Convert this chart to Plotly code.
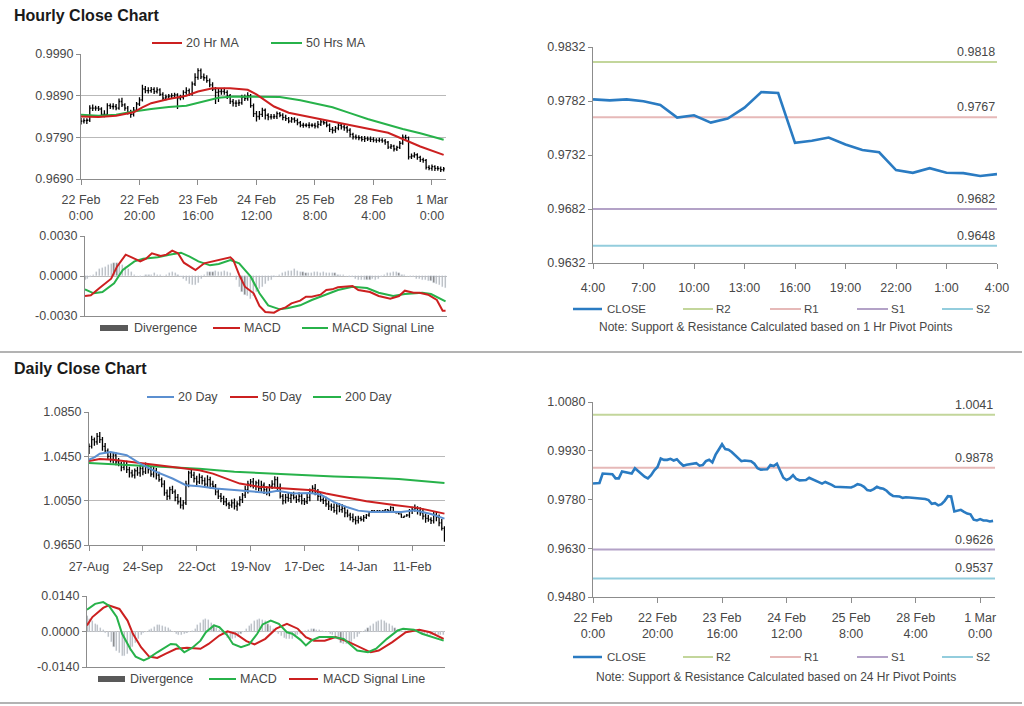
import plotly.graph_objects as go

# ------------------------------------------------------------------ data
PIP = 1e-4

# Hourly bars (values in pips, x 1e-4)
hourly_tick_idx = [0, 20, 40, 60, 80, 100, 120]
hourly_tick_text = ["22 Feb<br>0:00", "22 Feb<br>20:00", "23 Feb<br>16:00", "24 Feb<br>12:00",
                    "25 Feb<br>8:00", "28 Feb<br>4:00", "1 Mar<br>0:00"]

h_close = [9829, 9830, 9831, 9860, 9860, 9860, 9858, 9845, 9845, 9866,
           9864, 9864, 9860, 9876, 9868, 9860, 9850, 9845, 9855, 9870,
           9880, 9906, 9902, 9902, 9905, 9900, 9904, 9893, 9884, 9887,
           9889, 9890, 9892, 9884, 9886, 9898, 9902, 9894, 9918, 9934,
           9950, 9935, 9933, 9926, 9916, 9906, 9898, 9900, 9900, 9898,
           9890, 9876, 9872, 9872, 9873, 9886, 9883, 9890, 9866, 9847,
           9840, 9845, 9855, 9843, 9839, 9839, 9840, 9847, 9843, 9838,
           9835, 9829, 9834, 9830, 9825, 9819, 9819, 9819, 9819, 9819,
           9817, 9821, 9827, 9825, 9819, 9809, 9807, 9812, 9819, 9815,
           9813, 9807, 9797, 9791, 9790, 9789, 9785, 9787, 9786, 9785,
           9783.5, 9782.6, 9783.5, 9781.7, 9778.3, 9766.6, 9768.8, 9762.0, 9765.7, 9775.8,
           9790.3, 9789.4, 9743.2, 9745.2, 9748.2, 9741.8, 9736.6, 9734.5, 9718.0, 9715.5,
           9719.8, 9715.5, 9715.2, 9712.5, 9714.3]
h_open = [9826, 9829, 9830, 9831, 9860, 9860, 9860, 9858, 9845, 9845,
          9866, 9864, 9864, 9860, 9876, 9868, 9860, 9850, 9845, 9855,
          9870, 9880, 9906, 9902, 9902, 9905, 9900, 9904, 9893, 9884,
          9887, 9889, 9890, 9892, 9884, 9886, 9898, 9902, 9894, 9918,
          9934, 9950, 9935, 9933, 9926, 9916, 9906, 9898, 9900, 9900,
          9898, 9890, 9876, 9872, 9872, 9873, 9886, 9883, 9890, 9866,
          9847, 9840, 9845, 9855, 9843, 9839, 9839, 9840, 9847, 9843,
          9838, 9835, 9829, 9834, 9830, 9825, 9819, 9819, 9819, 9819,
          9819, 9817, 9821, 9827, 9825, 9819, 9809, 9807, 9812, 9819,
          9815, 9813, 9807, 9797, 9791, 9790, 9789, 9785, 9787, 9786,
          9785, 9783.5, 9782.6, 9783.5, 9781.7, 9778.3, 9766.6, 9768.8, 9762.0, 9765.7,
          9775.8, 9790.3, 9789.4, 9743.2, 9745.2, 9748.2, 9741.8, 9736.6, 9734.5, 9718.0,
          9715.5, 9719.8, 9715.5, 9715.2, 9712.5]
h_high = [9837, 9836, 9836, 9867, 9869, 9866, 9865, 9862, 9855, 9872,
          9871, 9872, 9870, 9883, 9885, 9872, 9865, 9856, 9863, 9875,
          9886, 9916, 9913, 9910, 9911, 9910, 9910, 9908, 9898, 9893,
          9894, 9896, 9897, 9896, 9892, 9903, 9910, 9907, 9924, 9944,
          9956, 9955, 9943, 9939, 9931, 9922, 9911, 9908, 9907, 9909,
          9903, 9894, 9882, 9879, 9881, 9892, 9893, 9898, 9894, 9871,
          9853, 9853, 9861, 9859, 9848, 9846, 9846, 9852, 9851, 9848,
          9844, 9839, 9839, 9838, 9835, 9829, 9825, 9824, 9826, 9824,
          9825, 9829, 9832, 9831, 9830, 9823, 9815, 9817, 9825, 9823,
          9820, 9817, 9812, 9801, 9797, 9795, 9793, 9793, 9792, 9792,
          9790, 9788, 9789, 9788, 9786, 9781, 9774, 9772, 9770, 9781,
          9797, 9796, 9792, 9751, 9754, 9752, 9746, 9741, 9738, 9723,
          9725, 9723, 9721, 9720, 9719]
h_low = [9821, 9823, 9822, 9827, 9853, 9854, 9853, 9841, 9838, 9841,
         9858, 9857, 9855, 9856, 9863, 9854, 9845, 9837, 9840, 9851,
         9865, 9876, 9896, 9895, 9897, 9894, 9895, 9889, 9878, 9879,
         9881, 9884, 9884, 9858, 9879, 9881, 9892, 9889, 9890, 9913,
         9928, 9930, 9926, 9921, 9910, 9901, 9870, 9875, 9892, 9892,
         9882, 9870, 9864, 9863, 9865, 9868, 9877, 9878, 9861, 9839,
         9828, 9832, 9839, 9833, 9831, 9833, 9834, 9834, 9838, 9831,
         9829, 9824, 9825, 9825, 9819, 9814, 9813, 9814, 9812, 9814,
         9811, 9812, 9817, 9820, 9814, 9803, 9799, 9801, 9807, 9809,
         9806, 9801, 9790, 9785, 9785, 9783, 9780, 9779, 9781, 9779,
         9778, 9777, 9778, 9777, 9772, 9762, 9762, 9756, 9757, 9762,
         9772, 9784, 9737, 9738, 9741, 9736, 9731, 9729, 9713, 9711,
         9710, 9709, 9710, 9707, 9708]

h_ma20_idx = [0, 6, 12, 18, 21, 24, 30, 36, 40, 45, 51, 57, 60, 63, 66, 71, 76, 82, 88, 94, 100, 105, 110, 116, 124]
h_ma20 = [9840, 9839, 9842, 9850, 9862, 9872, 9882, 9890, 9900, 9908, 9908, 9904, 9893, 9878, 9864,
          9849, 9842, 9833, 9825, 9817, 9808, 9801, 9786, 9768, 9748]
h_ma50_idx = [0, 6, 12, 18, 24, 30, 36, 42, 47, 52, 60, 68, 75, 80, 86, 92, 98, 104, 110, 116, 124]
h_ma50 = [9844, 9842, 9844, 9852, 9858, 9863, 9866, 9876, 9885, 9888, 9888, 9887, 9879, 9871, 9862,
          9848, 9834, 9822, 9810, 9800, 9784]

# Hourly MACD (x 1e-4)
h_macd_idx = [0, 2, 5, 9, 11, 14, 17, 19, 21, 23, 26, 28, 30, 32, 34, 36, 38, 41, 44, 46,
              50, 51, 53, 55, 58, 60, 62, 65, 67, 69, 71, 74, 76, 78, 81, 83, 85, 87, 90, 92,
              94, 98, 101, 105, 108, 110, 113, 115, 118, 121, 123, 124]
h_macd = [-15, -14.5, -9, -2, 7, 16, 13, 11, 13, 17, 15, 16, 19, 17, 10, 7, 4.5, 9.5, 11, 12.5,
          14, 12, 1, -8, -13, -22.5, -27, -27.5, -25, -23.5, -20.5, -18.5, -15.5, -15.5, -14, -10.5,
          -10, -8.5, -8, -7.5, -10.5, -12, -15, -17, -15, -11, -12.5, -12.5, -14, -18, -26, -26]
h_sig_idx = [0, 3, 6, 10, 13, 17, 20, 25, 29, 33, 36, 39, 43, 46, 50, 53, 57, 60, 63, 67, 70,
             74, 78, 83, 87, 92, 97, 101, 106, 110, 116, 119, 124]
h_sig = [-10, -13, -12, -5.5, 4.5, 11, 13, 14, 16, 17.5, 14.5, 11, 8, 9, 12, 9.5, -0.5, -13, -22,
         -25, -24, -22, -18, -13.5, -10.5, -8, -9, -12.5, -15, -13.5, -12.5, -13.5, -19]
h_div = [-3, -2, -1, 1, 3, 5, 6, 7, 8, 9,
         10, 10, 9, 8, 7, 5, 3, 1, 0, -1,
         0, 1, 1, 1, 2, 1, 1, 0, 1, 2,
         3, 2, 1, 0, -2, -4, -6, -7, -7, -5,
         -2, 1, 3, 3, 3, 4, 3, 3, 4, 3,
         2, 0, -3, -8, -12, -14, -15, -17, -15, -12,
         -10, -8, -6, -4, -3, -1, 0, 1, 2, 3,
         4, 4, 5, 4, 3, 3, 2, 2, 2, 3,
         3, 2, 3, 2, 2, 2, 2, 1, 1, 1,
         0, -1, -1, -2, -3, -3, -3, -3, -3, -2,
         -3, -2, -1, 1, 2, 2, 3, 3, 2, 1,
         1, 0, -1, -1, -2, -2, -3, -3, -4, -4,
         -5, -6, -7, -8, -9]
h_macd_ticks = [-0.003, 0.0, 0.003]
h_macd_ticktext = ["-0.0030", "0.0000", "0.0030"]

# Hourly pivot panel
pivot_h_ticks = ["4:00", "7:00", "10:00", "13:00", "16:00", "19:00", "22:00", "1:00", "4:00"]
pivot_h_names = ["R2", "R1", "S1", "S2"]
pivot_h_levels = [0.9818, 0.9767, 0.9682, 0.9648]

# Daily bars (x 1e-4)
daily_tick_idx = [0, 20, 40, 60, 80, 100, 120]
daily_tick_text = ["27-Aug", "24-Sep", "22-Oct", "19-Nov", "17-Dec", "14-Jan", "11-Feb"]
d_close = [10540, 10600, 10580, 10630, 10600, 10540, 10500, 10450, 10420, 10460,
           10400, 10380, 10350, 10370, 10330, 10300, 10280, 10320, 10300, 10340,
           10310, 10360, 10330, 10290, 10320, 10280, 10240, 10200, 10120, 10090,
           10150, 10130, 10080, 10040, 10010, 10030, 10200, 10300, 10280, 10250,
           10220, 10260, 10230, 10200, 10240, 10200, 10180, 10130, 10090, 10070,
           10040, 10020, 10010, 10030, 10000, 10020, 10060, 10100, 10150, 10200,
           10220, 10180, 10210, 10160, 10190, 10150, 10120, 10180, 10200, 10240,
           10170, 10090, 10050, 10080, 10070, 10100, 10080, 10060, 10090, 10050,
           10040, 10080, 10140, 10160, 10130, 10090, 10060, 10050, 10020, 10000,
           9990, 9960, 10000, 9970, 9980, 9940, 9920, 9900, 9880, 9870,
           9890, 9880, 9900, 9920, 9950, 9960, 9950, 9960, 9950, 9960,
           9970, 9960, 9990, 9950, 9940, 9930, 9900, 9910, 9920, 9960,
           9970, 9980, 9960, 9940, 9910, 9890, 9880, 9870, 9920, 9900,
           9850, 9800, 9700]
d_open = [10500, 10540, 10600, 10580, 10630, 10600, 10540, 10500, 10450, 10420,
          10460, 10400, 10380, 10350, 10370, 10330, 10300, 10280, 10320, 10300,
          10340, 10310, 10360, 10330, 10290, 10320, 10280, 10240, 10200, 10120,
          10090, 10150, 10130, 10080, 10040, 10010, 10030, 10200, 10300, 10280,
          10250, 10220, 10260, 10230, 10200, 10240, 10200, 10180, 10130, 10090,
          10070, 10040, 10020, 10010, 10030, 10000, 10020, 10060, 10100, 10150,
          10200, 10220, 10180, 10210, 10160, 10190, 10150, 10120, 10180, 10200,
          10240, 10170, 10090, 10050, 10080, 10070, 10100, 10080, 10060, 10090,
          10050, 10040, 10080, 10140, 10160, 10130, 10090, 10060, 10050, 10020,
          10000, 9990, 9960, 10000, 9970, 9980, 9940, 9920, 9900, 9880,
          9870, 9890, 9880, 9900, 9920, 9950, 9960, 9950, 9960, 9950,
          9960, 9970, 9960, 9990, 9950, 9940, 9930, 9900, 9910, 9920,
          9960, 9970, 9980, 9960, 9940, 9910, 9890, 9880, 9870, 9920,
          9900, 9850, 9800]
d_high = [10565, 10635, 10620, 10660, 10670, 10625, 10570, 10520, 10485, 10490,
          10485, 10435, 10400, 10400, 10410, 10355, 10330, 10340, 10355, 10370,
          10365, 10395, 10380, 10360, 10360, 10345, 10310, 10260, 10235, 10150,
          10175, 10185, 10150, 10110, 10080, 10055, 10230, 10320, 10335, 10310,
          10275, 10295, 10280, 10260, 10280, 10265, 10230, 10200, 10165, 10120,
          10095, 10075, 10040, 10060, 10070, 10045, 10090, 10120, 10185, 10230,
          10245, 10255, 10230, 10240, 10230, 10215, 10180, 10200, 10235, 10270,
          10265, 10205, 10110, 10110, 10120, 10125, 10130, 10100, 10125, 10120,
          10075, 10115, 10160, 10190, 10200, 10155, 10120, 10080, 10085, 10050,
          10025, 10025, 10020, 10030, 10020, 10005, 9970, 9940, 9935, 9910,
          9915, 9910, 9920, 9930, 9955, 9965, 9965, 9965, 9965, 9965,
          9975, 9975, 10000, 9995, 9955, 9945, 9935, 9915, 9930, 9975,
          9995, 10015, 10000, 9990, 9980, 9935, 9920, 9900, 9955, 9950,
          9925, 9885, 9820]
d_low = [10470, 10520, 10545, 10555, 10570, 10500, 10480, 10420, 10395, 10385,
         10370, 10360, 10315, 10325, 10300, 10260, 10260, 10250, 10275, 10265,
         10280, 10290, 10295, 10265, 10260, 10240, 10220, 10170, 10095, 10055,
         10060, 10110, 10045, 10015, 9980, 9970, 10010, 10170, 10255, 10215,
         10190, 10200, 10195, 10175, 10170, 10160, 10160, 10100, 10065, 10035,
         10010, 10000, 9975, 9985, 9970, 9960, 10000, 10030, 10075, 10115,
         10170, 10160, 10145, 10135, 10130, 10110, 10100, 10090, 10155, 10165,
         10140, 10070, 10015, 10025, 10040, 10030, 10060, 10030, 10035, 10015,
         10010, 10020, 10045, 10115, 10100, 10050, 10040, 10020, 9995, 9965,
         9960, 9940, 9925, 9945, 9940, 9900, 9900, 9870, 9855, 9835,
         9845, 9865, 9860, 9885, 9905, 9945, 9945, 9945, 9945, 9945,
         9955, 9955, 9950, 9945, 9935, 9925, 9895, 9895, 9905, 9895,
         9930, 9950, 9925, 9915, 9880, 9850, 9860, 9840, 9845, 9865,
         9820, 9780, 9680]

d_ma20_idx = [0, 2, 4, 8, 14, 19, 25, 31, 36, 41, 47, 54, 60, 66, 70, 76, 82, 86, 91, 96, 100,
              105, 110, 116, 121, 127, 132]
d_ma20 = [10420, 10440, 10474, 10490, 10460, 10384, 10310, 10250, 10190, 10180, 10160, 10144,
          10129, 10122, 10139, 10114, 10120, 10105, 10037, 9990, 9960, 9947, 9950, 9947, 9963,
          9930, 9888]
d_ma50_idx = [0, 4, 9, 16, 26, 35, 41, 46, 51, 56, 63, 71, 78, 83, 88, 95, 103, 114, 122, 132]
d_ma50 = [10408, 10426, 10420, 10400, 10370, 10340, 10324, 10294, 10250, 10204, 10175, 10160,
          10150, 10143, 10115, 10083, 10045, 10008, 9985, 9933]
d_ma200_idx = [0, 16, 29, 41, 54, 66, 78, 91, 103, 115, 132]
d_ma200 = [10390, 10370, 10350, 10339, 10310, 10295, 10280, 10268, 10258, 10246, 10210]

# Daily MACD (x 1e-4)
d_macd_idx = [0, 3, 6, 8, 11, 13, 16, 18, 21, 23, 26, 28, 31, 33, 36, 39, 42, 44, 47, 49,
              52, 54, 57, 60, 63, 65, 68, 71, 74, 76, 79, 81, 83, 86, 91, 95, 97, 100, 104, 107,
              111, 115, 117, 121, 124, 128, 132]
d_macd = [86, 109, 116, 103, 57, -9, -68, -99, -114, -104, -82, -68, -49, -51, -82, -64, -36, -3,
          24, 17, -16, -49, -62, -51, -9, 28, 43, 30, -3, -9, -33, -55, -36, -22, -22, -29, -49,
          -75, -82, -68, -29, 4, 11, 7, -9, -22, -36]
d_sig_idx = [0, 2, 6, 8, 12, 15, 17, 20, 23, 26, 29, 33, 37, 42, 45, 49, 52, 55, 59, 62, 66,
             70, 74, 78, 81, 84, 88, 92, 97, 101, 105, 108, 113, 118, 123, 127, 132]
d_sig = [24, 57, 93, 103, 89, 43, -9, -62, -99, -104, -88, -68, -64, -68, -49, -16, 1, -9, -38,
         -51, -29, 11, 30, 11, -22, -36, -36, -22, -42, -62, -82, -75, -42, -3, 7, -3, -29]
d_div = [60, 50, 40, 30, 25, 15, 5, -5, -20, -40,
         -60, -75, -85, -95, -95, -90, -75, -60, -45, -30,
         -15, -5, 0, 5, 10, 18, 24, 24, 22, 18,
         12, 5, -3, -8, -12, -12, -10, -6, -2, 3,
         10, 25, 35, 45, 50, 45, 35, 25, 15, 5,
         -5, -15, -25, -30, -30, -25, -20, -10, 0, 10,
         20, 30, 40, 45, 48, 45, 40, 30, 20, 10,
         0, -10, -18, -25, -30, -30, -28, -22, -15, -8,
         -3, 2, 5, 8, 8, 6, 4, 2, 0, -3,
         -8, -15, -25, -35, -45, -50, -50, -45, -40, -30,
         -20, -10, -2, 5, 12, 20, 30, 38, 43, 45,
         40, 35, 28, 20, 12, 5, 0, -2, 2, 3,
         2, 0, -3, -5, -8, -10, -12, -14, -15, -15,
         -14, -13, -12]
d_macd_ticks = [-0.014, 0.0, 0.014]
d_macd_ticktext = ["-0.0140", "0.0000", "0.0140"]

# Daily pivot panel
pivot_d_names = ["R2", "R1", "S1", "S2"]
pivot_d_levels = [1.0041, 0.9878, 0.9626, 0.9537]

# ------------------------------------------------------------------ style
W, H = 1024, 706
FONT = "Liberation Sans, Arial, sans-serif"
TXT = "#474747"
GRID = "#b9b9b9"
AXIS = "#8c8c8c"
RED = "#cc2020"
GREEN = "#27b24a"
BLUE20 = "#5b8fd0"
CLOSE_BLUE = "#2a7bc2"
PIV_COL = {"R2": "#c3d69b", "R1": "#e6b9b8", "S1": "#b3a2c7", "S2": "#93cddd"}
DIVC = "#808080"
TICKSZ = 12.5


def sc(vals):
    return [v * PIP for v in vals]


def xd(a, b):
    return [a / W, b / W]


def yd(top, bottom):
    return [1 - bottom / H, 1 - top / H]


fig = go.Figure()

# ---------------- hourly price panel
hx = list(range(len(h_close)))
fig.add_trace(go.Ohlc(x=hx, open=sc(h_open), high=sc(h_high), low=sc(h_low), close=sc(h_close),
                      increasing=dict(line=dict(color="black", width=1.3)),
                      decreasing=dict(line=dict(color="black", width=1.3)),
                      tickwidth=0.4, xaxis="x", yaxis="y", showlegend=False, hoverinfo="skip"))
fig.add_trace(go.Scatter(x=h_ma50_idx, y=sc(h_ma50), mode="lines", line=dict(color=GREEN, width=2),
                         xaxis="x", yaxis="y", showlegend=False))
fig.add_trace(go.Scatter(x=h_ma20_idx, y=sc(h_ma20), mode="lines", line=dict(color=RED, width=2),
                         xaxis="x", yaxis="y", showlegend=False))

# ---------------- hourly MACD
fig.add_trace(go.Bar(x=list(range(len(h_div))), y=sc(h_div), marker_color=DIVC, width=0.4,
                     xaxis="x2", yaxis="y2", showlegend=False))
fig.add_trace(go.Scatter(x=h_sig_idx, y=sc(h_sig), mode="lines", line=dict(color=GREEN, width=2),
                         xaxis="x2", yaxis="y2", showlegend=False))
fig.add_trace(go.Scatter(x=h_macd_idx, y=sc(h_macd), mode="lines", line=dict(color=RED, width=2),
                         xaxis="x2", yaxis="y2", showlegend=False))

# ---------------- hourly pivot
ph_close = h_close[-25:]
npx = len(ph_close) - 1
for name, lvl in zip(pivot_h_names, pivot_h_levels):
    fig.add_trace(go.Scatter(x=[0, npx], y=[lvl, lvl], mode="lines",
                             line=dict(color=PIV_COL[name], width=2), xaxis="x3", yaxis="y3",
                             showlegend=False))
fig.add_trace(go.Scatter(x=list(range(len(ph_close))), y=sc(ph_close), mode="lines",
                         line=dict(color=CLOSE_BLUE, width=2.6), xaxis="x3", yaxis="y3",
                         showlegend=False))

# ---------------- daily price panel
dx = list(range(len(d_close)))
fig.add_trace(go.Ohlc(x=dx, open=sc(d_open), high=sc(d_high), low=sc(d_low), close=sc(d_close),
                      increasing=dict(line=dict(color="black", width=1.3)),
                      decreasing=dict(line=dict(color="black", width=1.3)),
                      tickwidth=0.4, xaxis="x4", yaxis="y4", showlegend=False, hoverinfo="skip"))
fig.add_trace(go.Scatter(x=d_ma200_idx, y=sc(d_ma200), mode="lines", line=dict(color=GREEN, width=2),
                         xaxis="x4", yaxis="y4", showlegend=False))
fig.add_trace(go.Scatter(x=d_ma50_idx, y=sc(d_ma50), mode="lines", line=dict(color=RED, width=2),
                         xaxis="x4", yaxis="y4", showlegend=False))
fig.add_trace(go.Scatter(x=d_ma20_idx, y=sc(d_ma20), mode="lines", line=dict(color=BLUE20, width=2),
                         xaxis="x4", yaxis="y4", showlegend=False))

# ---------------- daily MACD
fig.add_trace(go.Bar(x=list(range(len(d_div))), y=sc(d_div), marker_color=DIVC, width=0.4,
                     xaxis="x5", yaxis="y5", showlegend=False))
fig.add_trace(go.Scatter(x=d_sig_idx, y=sc(d_sig), mode="lines", line=dict(color=RED, width=2),
                         xaxis="x5", yaxis="y5", showlegend=False))
fig.add_trace(go.Scatter(x=d_macd_idx, y=sc(d_macd), mode="lines", line=dict(color=GREEN, width=2),
                         xaxis="x5", yaxis="y5", showlegend=False))

# ---------------- daily pivot (hourly close over the week)
nh = len(h_close) - 1
for name, lvl in zip(pivot_d_names, pivot_d_levels):
    fig.add_trace(go.Scatter(x=[0, nh + 0.6], y=[lvl, lvl], mode="lines",
                             line=dict(color=PIV_COL[name], width=2), xaxis="x6", yaxis="y6",
                             showlegend=False))
fig.add_trace(go.Scatter(x=hx, y=sc(h_close), mode="lines", line=dict(color=CLOSE_BLUE, width=2.6),
                         xaxis="x6", yaxis="y6", showlegend=False))


# ------------------------------------------------------------------ axes
def xax(dom, rng, anchor, tickvals=None, ticktext=None, standoff=6):
    d = dict(domain=dom, range=rng, anchor=anchor, showgrid=False, zeroline=False,
             showline=True, linecolor=AXIS, linewidth=1, automargin=False,
             tickfont=dict(family=FONT, size=TICKSZ, color=TXT),
             rangeslider=dict(visible=False), fixedrange=True)
    if tickvals is None:
        d.update(showticklabels=False, ticks="")
    else:
        d.update(tickmode="array", tickvals=tickvals, ticktext=ticktext, ticks="outside",
                 ticklen=5, tickcolor=AXIS, ticklabelstandoff=standoff)
    return d


def yax(dom, rng, anchor, tickvals, grid=True, ticktext=None):
    d = dict(domain=dom, range=rng, anchor=anchor, tickmode="array", tickvals=tickvals,
             tickformat=".4f", showgrid=grid, gridcolor=GRID, gridwidth=1, zeroline=False,
             showline=True, linecolor=AXIS, linewidth=1, ticks="outside", ticklen=4,
             automargin=False,
             tickcolor=AXIS, tickfont=dict(family=FONT, size=TICKSZ, color=TXT),
             fixedrange=True)
    if ticktext is not None:
        d["ticktext"] = ticktext
    return d


fig.update_layout(
    xaxis=xax(xd(81, 446), [0, 124.8], "y", hourly_tick_idx, hourly_tick_text, 4),
    yaxis=yax(yd(54, 179), [0.9690, 0.9990], "x", [0.9690, 0.9790, 0.9890, 0.9990]),
    xaxis2=xax(xd(85, 447), [0, 124.5], "y2"),
    yaxis2=yax(yd(236, 316), [-0.003, 0.003], "x2", h_macd_ticks, True, h_macd_ticktext),
    xaxis3=xax(xd(593, 997), [0, 24], "y3", list(range(0, 25, 3)), pivot_h_ticks, 8),
    yaxis3=yax(yd(47, 263), [0.9632, 0.9832], "x3", [0.9632, 0.9682, 0.9732, 0.9782, 0.9832], False),
    xaxis4=xax(xd(89, 445), [0, 132.2], "y4", daily_tick_idx, daily_tick_text, 5),
    yaxis4=yax(yd(412, 545), [0.9650, 1.0850], "x4", [0.9650, 1.0050, 1.0450, 1.0850]),
    xaxis5=xax(xd(87, 445), [0, 132.5], "y5"),
    yaxis5=yax(yd(596, 667), [-0.014, 0.014], "x5", d_macd_ticks, True, d_macd_ticktext),
    xaxis6=xax(xd(593, 995), [0, 124.6], "y6", hourly_tick_idx, hourly_tick_text, 4),
    yaxis6=yax(yd(402, 597), [0.9480, 1.0080], "x6", [0.9480, 0.9630, 0.9780, 0.9930, 1.0080], False),
)

# ------------------------------------------------------------------ text, legends, rules
ann = []
shapes = []


def text(x, y, s, size=12.5, anchor="left", bold=False, color=TXT):
    ann.append(dict(x=x / W, y=1 - y / H, xref="paper", yref="paper", text=f"<b>{s}</b>" if bold else s,
                    showarrow=False, xanchor=anchor, yanchor="middle",
                    font=dict(family=FONT, size=size, color=color)))


def swatch_line(x0, x1, y, color, width=2):
    shapes.append(dict(type="line", xref="paper", yref="paper", x0=x0 / W, x1=x1 / W,
                       y0=1 - y / H, y1=1 - y / H, line=dict(color=color, width=width)))


def swatch_box(x0, x1, y, color):
    shapes.append(dict(type="rect", xref="paper", yref="paper", x0=x0 / W, x1=x1 / W,
                       y0=1 - (y + 3) / H, y1=1 - (y - 3) / H, line=dict(width=0), fillcolor=color))


# titles
text(12, 16, "Hourly Close Chart", size=16, bold=True, color="#1a1a1a")
text(12, 369, "Daily Close Chart", size=16, bold=True, color="#1a1a1a")

# section rules
for yy in (352, 703):
    shapes.append(dict(type="line", xref="paper", yref="paper", x0=0, x1=1022 / W,
                       y0=1 - yy / H, y1=1 - yy / H, line=dict(color="#9a9a9a", width=1.5)))

# hourly price legend
swatch_line(152, 182, 43, RED)
text(184, 43, "20 Hr MA")
swatch_line(271, 302, 43, GREEN)
text(304, 43, "50 Hrs MA")

# hourly MACD legend
swatch_box(100, 128, 328, "#595959")
text(132, 328, "Divergence")
swatch_line(213, 240, 328, RED)
text(242, 328, "MACD")
swatch_line(302, 328, 328, GREEN)
text(330, 328, "MACD Signal Line")

# daily price legend
swatch_line(147, 174, 397, BLUE20)
text(176, 397, "20 Day")
swatch_line(230, 258, 397, RED)
text(260, 397, "50 Day")
swatch_line(313, 341, 397, GREEN)
text(343, 397, "200 Day")

# daily MACD legend
swatch_box(98, 125, 679, "#595959")
text(128, 679, "Divergence")
swatch_line(209, 236, 679, GREEN)
text(238, 679, "MACD")
swatch_line(289, 318, 679, RED)
text(321, 679, "MACD Signal Line")

# pivot legends
for ly, note, ny in ((309, "Note: Support &amp; Resistance Calculated based on 1 Hr Pivot Points", 327),
                     (657, "Note: Support &amp; Resistance Calculated based on 24 Hr Pivot Points", 677)):
    swatch_line(573, 602, ly, CLOSE_BLUE, 2.5)
    text(605, ly, "CLOSE", size=11.5)
    for (x0, x1, name) in ((683, 713, "R2"), (770, 801, "R1"), (857, 888, "S1"), (942, 973, "S2")):
        swatch_line(x0, x1, ly, PIV_COL[name], 2)
        text(x1 + 1, ly, name, size=11.5)
    text(776, ny, note, size=12, anchor="center")

# pivot level labels
for lvl in pivot_h_levels:
    ann.append(dict(x=npx, y=lvl, xref="x3", yref="y3", text=f"{lvl:.4f}", showarrow=False,
                    xanchor="right", yanchor="bottom", yshift=1,
                    font=dict(family=FONT, size=TICKSZ, color=TXT)))
for lvl in pivot_d_levels:
    ann.append(dict(x=124.6, y=lvl, xref="x6", yref="y6", text=f"{lvl:.4f}", showarrow=False,
                    xanchor="right", yanchor="bottom", yshift=1,
                    font=dict(family=FONT, size=TICKSZ, color=TXT)))

fig.update_layout(width=W, height=H, autosize=False, margin=dict(l=0, r=0, t=0, b=0),
                  paper_bgcolor="white", plot_bgcolor="white", annotations=ann, shapes=shapes,
                  bargap=0, showlegend=False, font=dict(family=FONT, color=TXT))

fig.write_html("out.html", config={"displayModeBar": False},
               post_script="document.body.style.margin='0';")
